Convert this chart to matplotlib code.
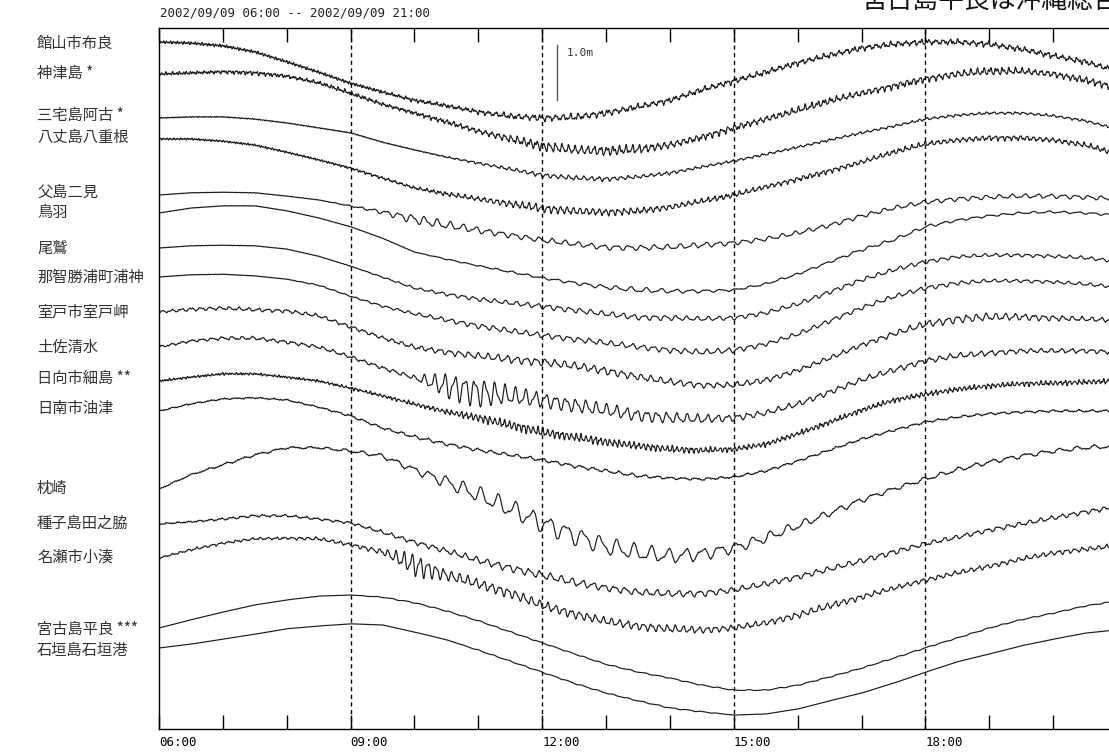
import numpy as np
import matplotlib
matplotlib.use('Agg')
import matplotlib.pyplot as plt

# station names as printed on the left
stations = ['館山市布良', '神津島 *', '三宅島阿古 *', '八丈島八重根', '父島二見', '鳥羽',
            '尾鷲', '那智勝浦町浦神', '室戸市室戸岬', '土佐清水', '日向市細島 **',
            '日南市油津', '枕崎', '種子島田之脇', '名瀬市小湊', '宮古島平良 ***', '石垣島石垣港']

# sea level (cm) every 30 min from 06:00 to 21:00, relative to the 06:00 value
half_hours = np.arange(31) * 0.5 + 6
lv_tateyama = [0, -2, -7, -18, -36, -55, -75, -91, -106, -116, -127, -135, -138, -137, -129, -118,
               -106, -87, -71, -55, -38, -24, -11, -4, 0, 0, -4, -13, -25, -36, -53]
lv_kozushima = [0, 2, 4, 2, -4, -16, -35, -55, -71, -87, -104, -118, -131, -138, -140, -137,
                -129, -115, -98, -82, -66, -49, -35, -22, -9, 0, 5, 5, 0, -11, -25]
lv_miyake = [0, 2, 2, -2, -9, -18, -27, -44, -58, -71, -82, -93, -104, -109, -111, -107,
             -100, -89, -78, -66, -53, -40, -27, -15, -2, 5, 9, 9, 4, -5, -20]
lv_hachijo = [0, 0, -4, -11, -24, -38, -53, -71, -89, -100, -109, -118, -126, -131, -133, -131,
              -124, -113, -102, -87, -73, -58, -42, -24, -9, -2, 2, 2, -2, -11, -27]
lv_chichijima = [0, 4, 5, 4, -2, -9, -20, -31, -44, -55, -64, -73, -82, -89, -95, -96,
                 -95, -91, -87, -80, -69, -55, -38, -24, -13, -7, -4, -2, -2, -4, -7]
lv_toba = [0, 9, 13, 13, 4, -9, -25, -46, -71, -84, -96, -107, -118, -127, -135, -140,
           -142, -142, -140, -129, -111, -89, -67, -49, -25, -13, -5, 0, 2, 0, -4]
lv_owase = [0, 4, 5, 4, -2, -15, -33, -53, -73, -84, -93, -100, -106, -113, -120, -126,
            -127, -129, -127, -118, -102, -80, -58, -40, -25, -16, -13, -13, -15, -18, -24]
lv_uragami = [0, 4, 5, 2, -4, -15, -35, -53, -67, -78, -89, -98, -106, -113, -120, -127,
              -133, -137, -133, -122, -104, -80, -56, -36, -20, -11, -7, -7, -9, -13, -18]
lv_muroto = [0, 5, 7, 4, 2, -7, -27, -47, -64, -73, -80, -86, -91, -98, -107, -118,
             -127, -133, -133, -124, -106, -84, -60, -40, -22, -13, -9, -9, -11, -13, -15]
lv_tosashimizu = [0, 11, 16, 16, 9, 0, -18, -38, -56, -71, -82, -89, -96, -106, -115, -124,
                  -129, -131, -129, -120, -104, -82, -60, -42, -25, -16, -11, -7, -7, -7, -9]
lv_hosojima = [0, 7, 13, 13, 7, 0, -13, -27, -42, -56, -67, -80, -93, -102, -111, -118,
               -124, -126, -124, -115, -96, -75, -53, -35, -24, -15, -9, -5, -4, -2, 0]
lv_aburatsu = [0, 13, 22, 24, 20, 7, -9, -31, -47, -60, -71, -80, -89, -100, -109, -118,
               -122, -124, -120, -109, -91, -71, -51, -35, -20, -11, -5, -2, 0, 0, 0]
lv_makurazaki = [0, 26, 44, 62, 75, 75, 69, 60, 35, 13, -11, -36, -62, -84, -104, -116,
                 -122, -118, -107, -89, -67, -44, -20, 0, 18, 35, 49, 60, 69, 75, 78]
lv_tanegashima = [0, 4, 9, 15, 15, 9, 2, -15, -33, -49, -66, -80, -93, -106, -116, -124,
                  -127, -126, -120, -109, -96, -82, -67, -51, -36, -24, -11, 0, 11, 22, 31]
lv_naze = [0, 15, 27, 35, 36, 35, 24, 11, -13, -31, -47, -64, -86, -102, -115, -124,
           -129, -131, -127, -118, -104, -87, -71, -55, -40, -27, -15, -2, 9, 16, 22]
lv_hirara = [0, 15, 29, 42, 51, 58, 60, 56, 46, 31, 13, -7, -27, -47, -66, -80,
             -91, -104, -113, -113, -104, -89, -73, -55, -36, -18, 0, 15, 27, 40, 49]
lv_ishigaki = [0, 7, 16, 25, 35, 40, 44, 42, 29, 15, -4, -24, -44, -64, -82, -96,
               -109, -116, -122, -120, -111, -96, -82, -64, -44, -25, -11, 4, 16, 27, 33]

# short-period oscillation, half peak-to-peak (cm), read every 30 min 06:00..21:00
osc_tateyama = [0, 0, 0, 0, 0, 0, 0, 1, 2, 2, 3, 4, 5, 5, 5, 4, 4, 4, 4, 4, 4, 4, 4, 4, 4, 4, 4, 4, 4, 4, 4]
osc_kozushima = [1, 1, 2, 2, 2, 2, 2, 2, 2, 3, 4, 6, 8, 8, 8, 7, 6, 5, 5, 5, 5, 5, 5, 5, 5, 6, 6, 5, 5, 5, 5]
osc_miyake = [0, 0, 0, 0, 0, 0, 0, 0, 0, 1, 2, 3, 4, 4, 4, 3, 3, 2, 2, 2, 2, 2, 2, 2, 2, 2, 2, 2, 2, 2, 2]
osc_hachijo = [0, 0, 0, 0, 0, 0, 1, 2, 2, 3, 4, 6, 7, 7, 6, 5, 5, 4, 4, 4, 4, 4, 4, 4, 4, 4, 4, 4, 4, 4, 4]
osc_chichijima = [0, 0, 0, 0, 0, 0, 1, 4, 9, 8, 6, 5, 5, 5, 5, 5, 5, 5, 4, 4, 4, 4, 4, 4, 4, 4, 4, 4, 4, 4, 4]
osc_toba = [0, 0, 0, 0, 0, 0, 0, 0, 0, 1, 1, 2, 2, 3, 4, 5, 4, 3, 2, 2, 2, 2, 3, 3, 3, 2, 2, 2, 2, 2, 2]
osc_owase = [0, 0, 0, 0, 0, 0, 0, 1, 2, 3, 4, 4, 5, 5, 5, 5, 5, 4, 4, 4, 4, 4, 4, 4, 4, 3, 3, 3, 3, 3, 3]
osc_uragami = [0, 0, 0, 0, 0, 1, 1, 2, 3, 4, 5, 5, 5, 5, 5, 5, 5, 5, 5, 4, 4, 4, 4, 4, 4, 4, 3, 3, 3, 3, 3]
osc_muroto = [2, 3, 3, 3, 3, 3, 3, 3, 4, 5, 6, 7, 7, 7, 7, 6, 6, 5, 5, 5, 4, 4, 4, 5, 6, 7, 7, 6, 5, 4, 4]
osc_tosashimizu = [2, 2, 3, 3, 3, 3, 3, 3, 4, 24, 28, 18, 14, 13, 12, 11, 10, 8, 6, 5, 5, 5, 5, 5, 5, 5, 5, 4, 4, 4, 4]
osc_hosojima = [1, 1, 1, 1, 1, 1, 2, 2, 3, 4, 7, 8, 8, 7, 7, 6, 6, 5, 4, 4, 4, 4, 4, 4, 4, 4, 4, 4, 4, 4, 4]
osc_aburatsu = [1, 1, 1, 1, 1, 1, 2, 2, 3, 3, 3, 3, 3, 3, 3, 3, 2, 2, 2, 2, 2, 2, 2, 2, 2, 2, 2, 2, 2, 2, 2]
osc_makurazaki = [1, 1, 2, 2, 2, 2, 3, 4, 6, 12, 16, 18, 18, 18, 17, 16, 14, 12, 10, 10, 8, 6, 5, 4, 4, 4, 4, 4, 4, 4, 4]
osc_tanegashima = [1, 1, 2, 2, 2, 2, 2, 3, 4, 5, 6, 7, 7, 7, 6, 6, 6, 6, 5, 5, 5, 5, 5, 5, 4, 4, 4, 4, 4, 4, 4]
osc_naze = [1, 2, 2, 2, 2, 3, 3, 5, 22, 10, 9, 9, 8, 8, 7, 7, 7, 6, 5, 5, 6, 6, 5, 4, 4, 4, 4, 4, 4, 4, 4]
osc_hirara = [0, 0, 0, 0, 0, 0, 0, 1, 1, 1, 1, 1, 1, 1, 1, 1, 1, 1, 1, 1, 1, 1, 1, 1, 1, 1, 1, 1, 1, 1, 1]
osc_ishigaki = [0, 0, 0, 0, 0, 0, 0, 0, 0, 0, 1, 1, 1, 1, 1, 1, 1, 1, 0, 0, 0, 0, 0, 0, 0, 0, 0, 0, 0, 0, 0]

# dominant period of the oscillation (min) and high-frequency noise (cm)
osc_period = [7, 6, 7, 6, 12, 14, 10, 10, 9, 9.5, 4.5, 12, 16, 10, 7.5, 14, 14]
noise_cm = [3, 3, 1, 2, 0.5, 0.5, 0.5, 0.5, 1, 1, 2, 1, 1, 1, 1, 0, 0]

levels = [lv_tateyama, lv_kozushima, lv_miyake, lv_hachijo, lv_chichijima, lv_toba, lv_owase,
          lv_uragami, lv_muroto, lv_tosashimizu, lv_hosojima, lv_aburatsu, lv_makurazaki,
          lv_tanegashima, lv_naze, lv_hirara, lv_ishigaki]
oscs = [osc_tateyama, osc_kozushima, osc_miyake, osc_hachijo, osc_chichijima, osc_toba, osc_owase,
        osc_uragami, osc_muroto, osc_tosashimizu, osc_hosojima, osc_aburatsu, osc_makurazaki,
        osc_tanegashima, osc_naze, osc_hirara, osc_ishigaki]

#### layout (pixels of the 1109x755 picture) ####
W, H = 1109, 755
ax_left, ax_top, ax_bottom = 159, 28, 729
px_per_hour = 63.87
px_per_m = 55.0
row_px = [42, 74, 118, 139, 195, 213, 248, 277, 312, 347, 381, 411, 489, 524, 558, 628, 648]
label_px = [43, 73, 115, 137, 192, 212, 248, 277, 312, 347, 378, 408, 488, 523, 557, 629, 650]

jp = ['Noto Sans CJK JP', 'DejaVu Sans']
mono = 'DejaVu Sans Mono'
ink = '#1c1c1c'

fig = plt.figure(figsize=(W / 100, H / 100), dpi=100)
ax_w = 15 * px_per_hour / W
ax = fig.add_axes([ax_left / W, 1 - ax_bottom / H, ax_w, (ax_bottom - ax_top) / H])
ax.set_xlim(6, 21)
ax.set_ylim(-(ax_bottom - ax_top) / px_per_m, 0)

t = np.arange(6, 21.0001, 1 / 120)
mins = (t - 6) * 60
for i in range(len(stations)):
    base = -(row_px[i] - ax_top) / px_per_m
    tide = np.interp(t, half_hours, levels[i]) / 100
    amp = np.interp(t, half_hours, oscs[i]) / 100
    p = osc_period[i]
    wave = amp * (0.75 * np.sin(2 * np.pi * mins / p + 0.7 * i)
                  + 0.3 * np.sin(2 * np.pi * mins / (0.53 * p) + 1.9 * i))
    noise = noise_cm[i] / 100 * (0.6 * np.sin(2 * np.pi * mins / 2.1 + i)
                                 + 0.4 * np.sin(2 * np.pi * mins / 3.3 + 2 * i))
    ax.plot(t, base + tide + wave + noise, color=ink, lw=0.85)

# dashed guides every 3 hours
for h in [9, 12, 15, 18]:
    ax.axvline(h, color='k', lw=1, ls=(0, (3, 2.5)))

# 1.0 m scale bar
sb_x = 6 + (557 - ax_left) / px_per_hour
sb_top = -(45 - ax_top) / px_per_m
ax.plot([sb_x, sb_x], [sb_top, sb_top - 1.0], color='#555555', lw=1)
ax.text(sb_x + 0.15, sb_top - 0.15, '1.0m', fontsize=8, family=mono, va='center', color='#333333')

ax.set_xticks(np.arange(6, 22))
ax.set_xticklabels(['%02d:00' % h if h % 3 == 0 and h < 21 else '' for h in range(6, 22)],
                   ha='left', family=mono, fontsize=9)
ax.tick_params(axis='x', direction='in', length=10, width=1, top=True, pad=5, colors='k')
ax.set_yticks([])
for s in ['left', 'bottom', 'top']:
    ax.spines[s].set_linewidth(1)
ax.spines['right'].set_visible(False)

for name, yp in zip(stations, label_px):
    fig.text(37 / W, 1 - yp / H, name, family=jp, fontsize=11, va='center', color='#333333')

fig.text(160 / W, 1 - 13 / H, '2002/09/09 06:00 -- 2002/09/09 21:00', family=mono,
         fontsize=9, va='center', color='#222222')
fig.text(862 / W, 1 - 9 / H, '宮古島平良は沖縄総合事務局', family=jp, fontsize=18.5,
         va='baseline', color='#111111')

fig.savefig('out.png', dpi=100)
